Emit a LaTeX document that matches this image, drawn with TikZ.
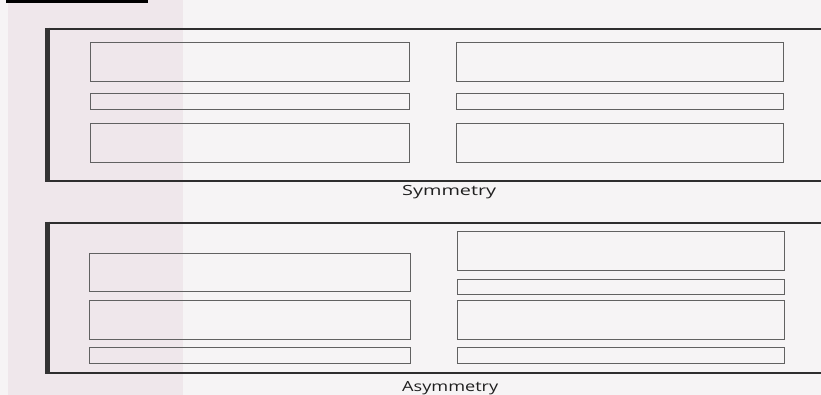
\documentclass[tikz,border=0pt]{standalone}
\usepackage{fontspec}
\setmainfont{Open Sans}
\definecolor{pagebg}{HTML}{F6F4F5}
\definecolor{pageleft}{HTML}{EFE7EB}
\begin{document}
\begin{tikzpicture}[x=1pt,y=-1pt,
  panelline/.style={draw=black!82, line width=2.6pt},
  panelside/.style={draw=black!80, line width=4.6pt},
  box/.style={draw=black!62, line width=1pt, inner sep=0pt, outer sep=0pt, anchor=north west, rectangle},
  caption/.style={font=\fontsize{14}{16}\selectfont, text=black!88, anchor=base west, inner sep=0pt}]
\useasboundingbox (0,0) rectangle (821,395);
\fill[pagebg] (0,0) rectangle (821,395);
\fill[pageleft] (8,0) rectangle (183,395);
\fill[black] (6,0) rectangle (148,3.5);
% top panel frame
\draw[panelline] (821,29) -- (45.5,29);
\draw[panelline] (45.5,181) -- (821,181);
\draw[panelside] (47.5,27.7) -- (47.5,182.3);
% bottom panel frame
\draw[panelline] (821,223) -- (45.5,223);
\draw[panelline] (45.5,373) -- (821,373);
\draw[panelside] (47.5,221.7) -- (47.5,374.3);
% top panel boxes
\node[box, minimum width=319pt, minimum height=39pt] (sl1) at (90,42.5) {};
\node[box, minimum width=319pt, minimum height=16pt] (sl2) at (90,94) {};
\node[box, minimum width=319pt, minimum height=39pt] (sl3) at (90,124) {};
\node[box, minimum width=327pt, minimum height=39pt] (sr1) at (456,42.5) {};
\node[box, minimum width=327pt, minimum height=16pt] (sr2) at (456,93.5) {};
\node[box, minimum width=327pt, minimum height=39pt] (sr3) at (456,124) {};
\node[caption] (symlabel) at (402,196) {\resizebox{94pt}{\height}{Symmetry}};
% bottom panel boxes
\node[box, minimum width=321pt, minimum height=38pt] (al1) at (89,253) {};
\node[box, minimum width=321pt, minimum height=39pt] (al2) at (89,300) {};
\node[box, minimum width=321pt, minimum height=16pt] (al3) at (89,347) {};
\node[box, minimum width=327pt, minimum height=38pt] (ar1) at (457,232) {};
\node[box, minimum width=327pt, minimum height=15pt] (ar2) at (457,279) {};
\node[box, minimum width=327pt, minimum height=39pt] (ar3) at (457,300) {};
\node[box, minimum width=327pt, minimum height=16pt] (ar4) at (457,347) {};
\node[caption] (asymlabel) at (402,391) {\resizebox{96pt}{\height}{Asymmetry}};
\end{tikzpicture}
\end{document}
